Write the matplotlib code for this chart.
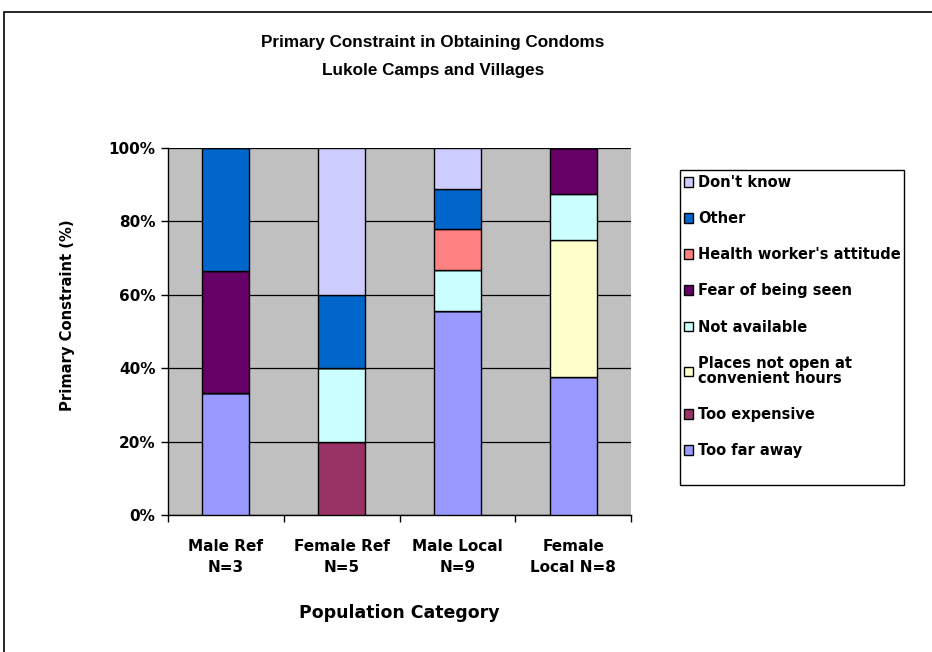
import numpy as np
import matplotlib.pyplot as plt
import matplotlib
from matplotlib.patches import Rectangle

matplotlib.rcParams['font.family'] = ['DejaVu Sans']
matplotlib.rcParams['font.weight'] = 'bold'

categories = ["Male Ref\nN=3", "Female Ref\nN=5", "Male Local\nN=9", "Female\nLocal N=8"]
# series, bottom to top of the stack (percent of respondents)
series = ["Too far away", "Too expensive", "Places not open at\nconvenient hours",
          "Not available", "Fear of being seen", "Health worker's attitude",
          "Other", "Don't know"]
too_far = [33.3, 0, 55.6, 37.5]
too_expensive = [0, 20, 0, 0]
not_open = [0, 0, 0, 37.5]
not_available = [0, 20, 11.1, 12.5]
fear_seen = [33.3, 0, 0, 12.5]
health_worker = [0, 0, 11.1, 0]
other = [33.4, 20, 11.1, 0]
dont_know = [0, 40, 11.1, 0]
values = [too_far, too_expensive, not_open, not_available,
          fear_seen, health_worker, other, dont_know]
colors = ["#9999FF", "#993366", "#FFFFCC", "#CCFFFF",
          "#660066", "#FF8080", "#0066CC", "#CCCCFF"]

fig = plt.figure(figsize=(9.32, 6.52), dpi=100, facecolor="white")

# outer chart frame
fig.patches.append(Rectangle((4 / 932, -0.01), 1.0, (652 - 12) / 652 + 0.01,
                             transform=fig.transFigure, fill=False,
                             edgecolor="black", linewidth=1.2))

ax = fig.add_axes([168 / 932, (652 - 515) / 652, 463 / 932, 367 / 652])
ax.set_facecolor("#C0C0C0")

x = np.arange(len(categories))
bottom = np.zeros(len(categories))
handles = []
for name, vals, col in zip(series, values, colors):
    vals = np.array(vals, dtype=float)
    b = ax.bar(x, vals, width=0.405, bottom=bottom, color=col,
               edgecolor="black", linewidth=1, label=name, zorder=3)
    handles.append(b)
    bottom += vals

ax.set_xlim(-0.5, 3.5)
ax.set_ylim(0, 100)
ax.set_yticks(np.arange(0, 101, 20))
ax.set_yticklabels([f"{v}%" for v in range(0, 101, 20)], fontsize=11, fontweight="bold")
ax.yaxis.grid(True, color="black", linewidth=0.9, zorder=1)
ax.set_axisbelow(True)
ax.tick_params(axis="y", direction="out", length=5, width=1, pad=4)

ax.set_xticks(x)
ax.set_xticklabels(categories, fontsize=11, fontweight="bold", linespacing=1.5)
ax.set_xticks(np.arange(-0.5, 4, 1), minor=True)
ax.tick_params(axis="x", which="major", length=0, pad=17)
ax.tick_params(axis="x", which="minor", direction="out", length=5, width=1)

for s in ["top", "right"]:
    ax.spines[s].set_visible(False)
ax.spines["left"].set_linewidth(1)
ax.spines["bottom"].set_linewidth(1)

ax.set_ylabel("Primary Constraint (%)", fontsize=10.6, fontweight="bold")
ax.yaxis.set_label_coords(-0.2, 0.545)
ax.set_xlabel("Population Category", fontsize=12.5, fontweight="bold", labelpad=21)

fig.text(433 / 932, (652 - 42) / 652, "Primary Constraint in Obtaining Condoms",
         ha="center", va="center", fontsize=12.3, fontweight="bold",
         family="Liberation Sans")
fig.text(433 / 932, (652 - 70) / 652, "Lukole Camps and Villages",
         ha="center", va="center", fontsize=12.3, fontweight="bold",
         family="Liberation Sans")

# legend box
fig.patches.append(Rectangle((680 / 932, (652 - 485) / 652), 224 / 932, 315 / 652,
                             transform=fig.transFigure, facecolor="white",
                             edgecolor="black", linewidth=1, zorder=0))
leg = fig.legend(handles[::-1], [h.get_label() for h in handles[::-1]],
                 loc="upper left", bbox_to_anchor=(681 / 932, (652 - 172) / 652),
                 frameon=False, fontsize=10.5, labelspacing=1.45,
                 handlelength=0.65, handleheight=0.65, handletextpad=0.35,
                 borderpad=0.2, borderaxespad=0)
for t in leg.get_texts():
    t.set_fontweight("bold")
    t.set_linespacing(1.0)

fig.savefig("out.png", dpi=100)
